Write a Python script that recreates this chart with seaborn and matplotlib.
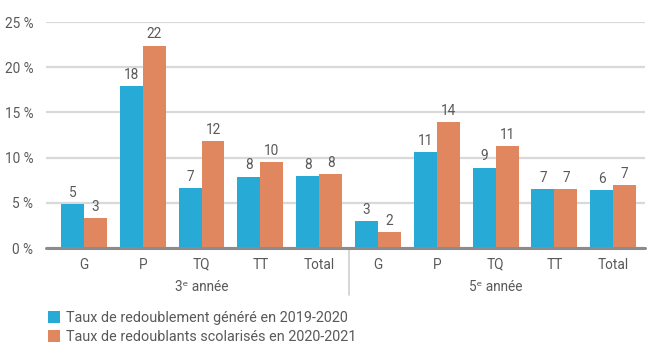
import matplotlib
matplotlib.use("Agg")
import matplotlib.pyplot as plt
from matplotlib.patches import Patch
import seaborn as sns
import pandas as pd

# Categories and series
levels = ["3ᵉ année", "5ᵉ année"]
categories = ["G", "P", "TQ", "TT", "Total"]
series = ["Taux de redoublement généré en 2019-2020",
          "Taux de redoublants scolarisés en 2020-2021"]

generated_3 = [4.9, 17.95, 6.6, 7.9, 8.0]
enrolled_3 = [3.35, 22.4, 11.85, 9.55, 8.2]
generated_5 = [3.0, 10.65, 8.9, 6.55, 6.45]
enrolled_5 = [1.8, 13.95, 11.3, 6.55, 7.0]

y_ticks = [0, 5, 10, 15, 20, 25]

colors = ["#27aad6", "#e0875f"]
text_color = "#595959"

sns.set_theme(style="white")
plt.rcParams["font.family"] = ["Roboto", "DejaVu Sans"]

rows = []
for lvl, gen, enr in [(levels[0], generated_3, enrolled_3),
                      (levels[1], generated_5, enrolled_5)]:
    for cat, g, e in zip(categories, gen, enr):
        key = f"{lvl}|{cat}"
        rows.append({"key": key, "serie": series[0], "value": g})
        rows.append({"key": key, "serie": series[1], "value": e})
df = pd.DataFrame(rows)
order = [f"{lvl}|{cat}" for lvl in levels for cat in categories]

fig = plt.figure(figsize=(6.47, 3.45), dpi=100)
ax = fig.add_axes([46 / 647, 1 - 248 / 345, 599 / 647, 226 / 345])

sns.barplot(data=df, x="key", y="value", hue="serie", order=order,
            hue_order=series, palette=colors, width=0.78, saturation=1,
            linewidth=0, edgecolor="none", legend=False, ax=ax, zorder=3)

# value labels above each bar
for container in ax.containers:
    ax.bar_label(container, labels=[f"{b.get_height():.0f}" for b in container],
                 padding=3, fontsize=9.8, color=text_color)

ax.set_ylim(0, 25)
ax.set_xlim(-0.645, 9.54)
ax.set_yticks(y_ticks)
ax.set_yticklabels([f"{t} %" for t in y_ticks], fontsize=9.8, color=text_color)
ax.set_xticks(range(len(order)))
ax.set_xticklabels(categories * 2, fontsize=9.8, color=text_color)
ax.tick_params(axis="y", length=0, pad=9)
ax.tick_params(axis="x", length=0, pad=7)
ax.set_xlabel("")
ax.set_ylabel("")
ax.yaxis.grid(True, color="#d9d9d9", lw=1.6, zorder=0)
for s in ax.spines.values():
    s.set_visible(False)
ax.axhline(0, color="#8c8c8c", lw=2.2, zorder=4, clip_on=False)

# group labels and separator
trans = ax.get_xaxis_transform()
ax.text(2, -0.172, levels[0], transform=trans, ha="center", va="center",
        fontsize=9.8, color=text_color)
ax.text(7, -0.172, levels[1], transform=trans, ha="center", va="center",
        fontsize=9.8, color=text_color)
ax.plot([4.5, 4.5], [0, -0.21], transform=trans, color="#d0d0d0", lw=1.2,
        clip_on=False)

handles = [Patch(facecolor=c, edgecolor="none") for c in colors]
fig.legend(handles, series, loc="upper left", bbox_to_anchor=(42 / 647, 1 - 305 / 345),
           frameon=False, fontsize=10.4, handlelength=0.85, handleheight=0.85,
           handletextpad=0.4, labelspacing=0.35, borderaxespad=0,
           labelcolor=text_color)

fig.savefig("out.png", dpi=100)
